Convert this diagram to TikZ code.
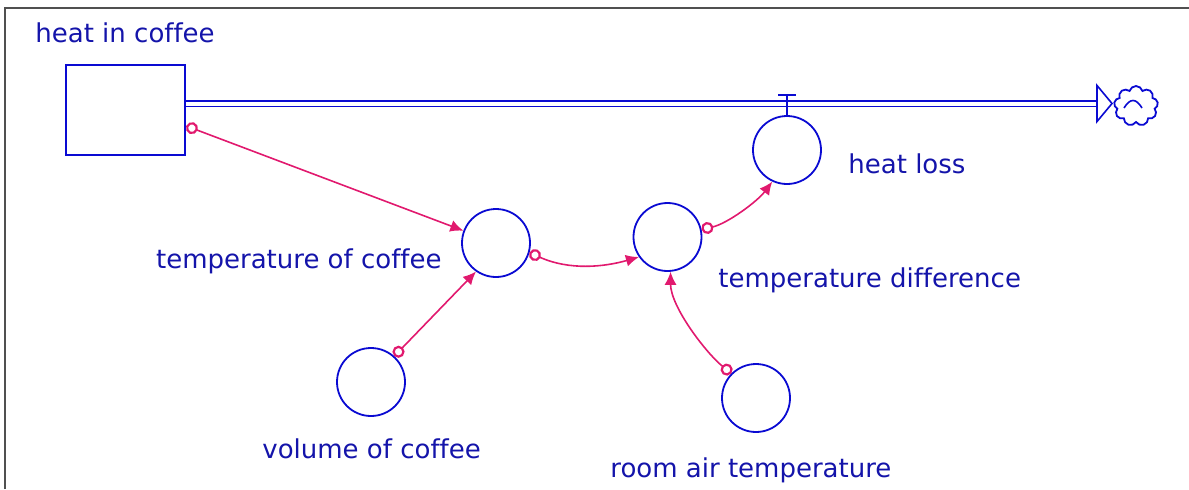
\documentclass[tikz,border=0pt]{standalone}
\usepackage{fontspec}
\setmainfont{DejaVu Sans}[Ligatures={NoCommon}]
\usetikzlibrary{
  arrows.meta,
  calc,
  shapes.symbols
}
\definecolor{stellablue}{RGB}{10,10,210}
\definecolor{labelblue}{RGB}{20,20,170}
\definecolor{linkpink}{RGB}{225,25,110}
\definecolor{framegray}{RGB}{80,80,80}
\tikzset{
  stock/.style={
    draw=stellablue,
    line width=1.3pt,
    minimum width=59.5pt,
    minimum height=45pt,
    inner sep=0pt
  },
  converter/.style={circle,draw=stellablue,line width=.9pt,minimum size=34pt,inner sep=0pt},
  pipe/.style={draw=stellablue,double=white,line width=.7pt,double distance=2pt},
  link/.style={
    draw=linkpink,
    line width=.8pt,
    arrows={Circle[open,length=6pt,width=6pt,line width=1.1pt]-Latex[length=6.5pt,width=6pt]}
  },
  namelabel/.style={font=\fontsize{13}{15}\selectfont,text=labelblue,inner sep=0pt}
}

\begin{document}
\begin{tikzpicture}[x=.5pt,y=-.5pt]
  \useasboundingbox (0,0) rectangle (1189,489);
  \draw[framegray,line width=1.3pt] (5,489) -- (5,8) -- (1189,8);

  % stock and its outflow
  \node[stock] (heat) at (125.5,110) {};
  \node[namelabel,anchor=base west] (heat label) at (35,42) {heat in coffee};
  \coordinate (spout) at (1097,103.5);
  \draw[pipe] (heat.east |- spout) -- (spout);
  \draw[stellablue,line width=.8pt,fill=white] (spout) ++(0,-18) -- ++(15,18) -- ++(-15,18) -- cycle;
  \node[cloud,cloud puffs=9,draw=stellablue,line width=.9pt,minimum width=22pt,minimum height=20pt,inner sep=0pt] (sink) at (1136,106) {};
  \draw[stellablue,line width=.8pt] ($(sink.center)+(-12,2)$) .. controls +(6,-10) and +(-6,-10) .. ($(sink.center)+(6,2)$);

  % converters
  \node[converter] (loss) at (787,150) {};
  \node[namelabel,anchor=base west] (loss label) at (848,173) {heat loss};
  \draw[stellablue,line width=.8pt] (loss.north) -- ++(0,-20) coordinate (valve);
  \draw[stellablue,line width=.8pt] ($(valve)+(-9,0)$) -- ($(valve)+(9,0)$);

  \node[converter] (tc) at (496,243) {};
  \node[namelabel,anchor=base east] (tc label) at (442,268) {temperature of coffee};
  \node[converter] (td) at (667.5,237) {};
  \node[namelabel,anchor=base west] (td label) at (718,287) {temperature difference};
  \node[converter] (vc) at (371,382) {};
  \node[namelabel,anchor=base west] (vc label) at (262,458) {volume of coffee};
  \node[converter] (ra) at (756,398) {};
  \node[namelabel,anchor=base west] (ra label) at (610,477) {room air temperature};

  % connectors
  \draw[link] ($(heat.east)+(0,16)$) -- (tc);
  \draw[link] (tc.-16) .. controls +(40,18) and +(-35,10) .. (td.215);
  \draw[link] (vc.48) -- (tc.235);
  \draw[link] (td.13) .. controls +(25,-5) and +(-15,20) .. (loss.245);
  \draw[link] (ra.135) .. controls +(-25,-20) and +(0,35) .. (td.275);
\end{tikzpicture}
\end{document}
